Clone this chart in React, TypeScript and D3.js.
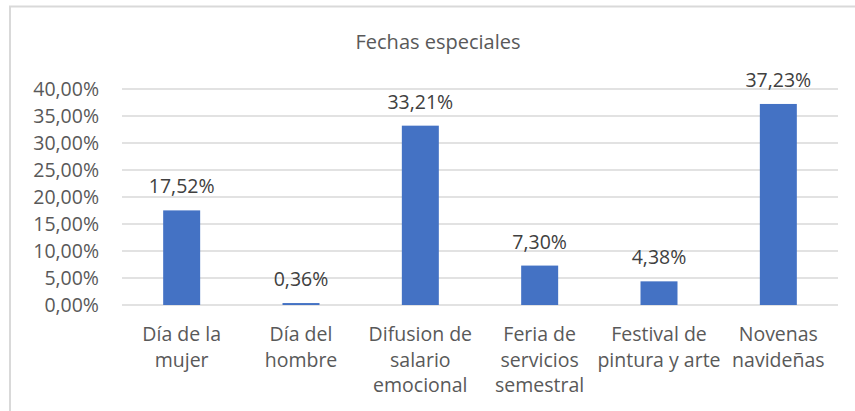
import { useEffect, useRef } from 'react';
import * as d3 from 'd3';

const categories = [
  ['Día de la', 'mujer'],
  ['Día del', 'hombre'],
  ['Difusion de', 'salario', 'emocional'],
  ['Feria de', 'servicios', 'semestral'],
  ['Festival de', 'pintura y arte'],
  ['Novenas', 'navideñas'],
];
const values = [17.52, 0.36, 33.21, 7.3, 4.38, 37.23];
const yTicks = [0, 5, 10, 15, 20, 25, 30, 35, 40];
const title = 'Fechas especiales';

const fmt = (v: number) => v.toFixed(2).replace('.', ',') + '%';

const App = () => {
  const ref = useRef<SVGSVGElement>(null);

  useEffect(() => {
    const svg = d3.select(ref.current);
    svg.selectAll('*').remove();

    const W = 855, H = 411;
    const margin = { top: 89, right: 17, bottom: 106, left: 122 };
    const width = W - margin.left - margin.right;
    const height = H - margin.top - margin.bottom;
    const font = "'Open Sans', sans-serif";
    const textColor = '#595959';

    svg.append('rect').attr('width', W).attr('height', H).attr('fill', '#fff');
    // chart border (left and top visible)
    svg.append('path')
      .attr('d', `M10,${H} V6.5 H${W}`)
      .attr('fill', 'none')
      .attr('stroke', '#d9d9d9')
      .attr('stroke-width', 2);

    svg.append('text')
      .attr('x', 438)
      .attr('y', 49)
      .attr('text-anchor', 'middle')
      .attr('font-family', font)
      .attr('font-size', 20)
      .attr('fill', textColor)
      .text(title);

    const chart = svg.append('g')
      .attr('transform', `translate(${margin.left},${margin.top})`);

    const x = d3.scaleBand<number>()
      .domain(d3.range(categories.length))
      .range([0, width])
      .paddingInner(0.69)
      .paddingOuter(0.345);

    const y = d3.scaleLinear().domain([0, 40]).range([height, 0]);

    chart.append('g')
      .selectAll('line')
      .data(yTicks)
      .enter()
      .append('line')
      .attr('x1', 0)
      .attr('x2', width)
      .attr('y1', d => y(d))
      .attr('y2', d => y(d))
      .attr('stroke', '#d9d9d9')
      .attr('stroke-width', 1.5);

    chart.append('g')
      .selectAll('text')
      .data(yTicks)
      .enter()
      .append('text')
      .attr('x', -23)
      .attr('y', d => y(d))
      .attr('dy', '0.36em')
      .attr('text-anchor', 'end')
      .attr('font-family', font)
      .attr('font-size', 19.5)
      .attr('fill', textColor)
      .text(d => fmt(d));

    chart.selectAll('.bar')
      .data(values)
      .enter()
      .append('rect')
      .attr('class', 'bar')
      .attr('x', (_, i) => x(i)!)
      .attr('y', d => y(d))
      .attr('width', x.bandwidth())
      .attr('height', d => height - y(d))
      .attr('fill', '#4472c4');

    chart.selectAll('.label')
      .data(values)
      .enter()
      .append('text')
      .attr('class', 'label')
      .attr('x', (_, i) => x(i)! + x.bandwidth() / 2)
      .attr('y', d => y(d) - 17)
      .attr('text-anchor', 'middle')
      .attr('font-family', font)
      .attr('font-size', 19.5)
      .attr('fill', '#404040')
      .text(d => fmt(d));

    const cats = chart.append('g')
      .selectAll('text')
      .data(categories)
      .enter()
      .append('text')
      .attr('text-anchor', 'middle')
      .attr('font-family', font)
      .attr('font-size', 19.5)
      .attr('fill', textColor);

    cats.each(function (lines, i) {
      const t = d3.select(this);
      lines.forEach((l, j) => {
        t.append('tspan')
          .attr('x', x(i)! + x.bandwidth() / 2)
          .attr('y', height + 36 + j * 25.5)
          .text(l);
      });
    });
  }, []);

  return (
    <svg
      ref={ref}
      width={855}
      height={411}
      style={{ position: 'absolute', left: 0, top: 0, display: 'block' }}
    />
  );
};

export default App;
